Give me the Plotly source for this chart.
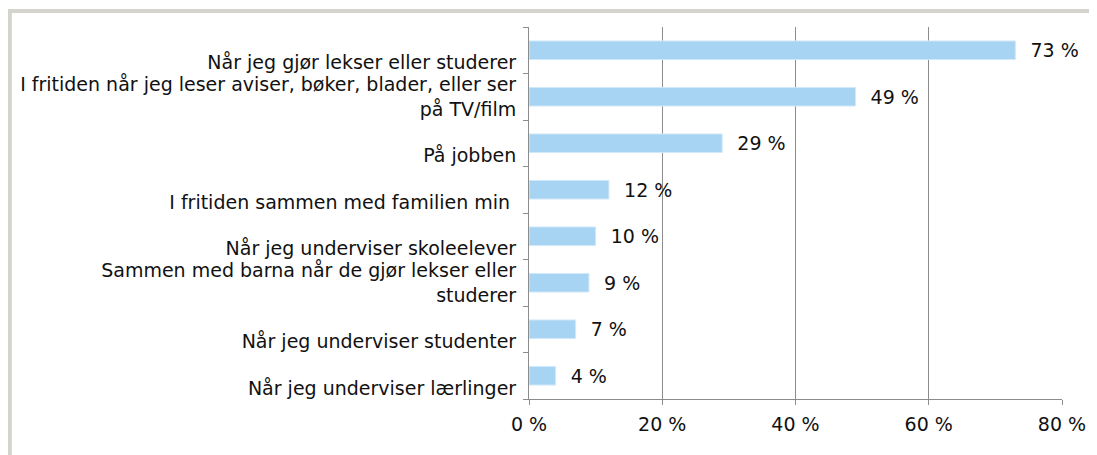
import plotly.graph_objects as go

categories = [
    "Når jeg gjør lekser eller studerer",
    "I fritiden når jeg leser aviser, bøker, blader, eller ser på TV/film",
    "På jobben",
    "I fritiden sammen med familien min",
    "Når jeg underviser skoleelever",
    "Sammen med barna når de gjør lekser eller studerer",
    "Når jeg underviser studenter",
    "Når jeg underviser lærlinger",
]
tick_labels = [
    "<br>Når jeg gjør lekser eller studerer",
    "I fritiden når jeg leser aviser, bøker, blader, eller ser<br>på TV/film",
    "<br>På jobben",
    "<br>I fritiden sammen med familien min ",
    "<br>Når jeg underviser skoleelever",
    "Sammen med barna når de gjør lekser eller<br>studerer",
    "<br>Når jeg underviser studenter",
    "<br>Når jeg underviser lærlinger",
]
values = [73, 49, 29, 12, 10, 9, 7, 4]
x_ticks = [0, 20, 40, 60, 80]
x_tick_labels = ["0 %", "20 %", "40 %", "60 %", "80 %"]

FONT = "DejaVu Sans"
FS = 19

fig = go.Figure()
fig.add_trace(go.Bar(
    y=categories,
    x=values,
    orientation="h",
    width=0.4,
    marker=dict(color="#A8D4F3", line=dict(color="#D2E9FA", width=1)),
    text=[f"\u00a0\u00a0{v} %" for v in values],
    textposition="outside",
    constraintext="none",
    cliponaxis=False,
    textfont=dict(family=FONT, size=FS, color="#111111"),
    hoverinfo="skip",
))

fig.update_layout(
    width=1097,
    height=455,
    margin=dict(l=521, r=43, t=19, b=64),
    paper_bgcolor="white",
    plot_bgcolor="white",
    showlegend=False,
    font=dict(family=FONT, size=FS, color="#111111"),
    shapes=[
        dict(type="rect", xref="paper", yref="paper",
             x0=-0.974, x1=1.3, y0=-0.5, y1=1.043,
             line=dict(color="#D4D4CC", width=4), layer="below"),
    ],
)

fig.update_xaxes(
    range=[0, 80],
    tickvals=x_ticks,
    ticktext=x_tick_labels,
    showgrid=True,
    gridcolor="#8C8C8C",
    gridwidth=1,
    zeroline=False,
    showline=True,
    linecolor="#8C8C8C",
    linewidth=1,
    ticks="outside",
    ticklen=5,
    tickcolor="#8C8C8C",
    ticklabelstandoff=3,
    tickfont=dict(family=FONT, size=FS, color="#111111"),
)

fig.update_yaxes(
    categoryorder="array",
    categoryarray=categories,
    autorange="reversed",
    tickvals=categories,
    ticktext=tick_labels,
    tickson="boundaries",
    showgrid=False,
    zeroline=False,
    showline=True,
    linecolor="#8C8C8C",
    linewidth=1,
    ticks="outside",
    ticklen=5,
    tickcolor="#8C8C8C",
    ticklabelstandoff=8,
    tickfont=dict(family=FONT, size=FS, color="#111111"),
)

fig.write_html("out.html")
